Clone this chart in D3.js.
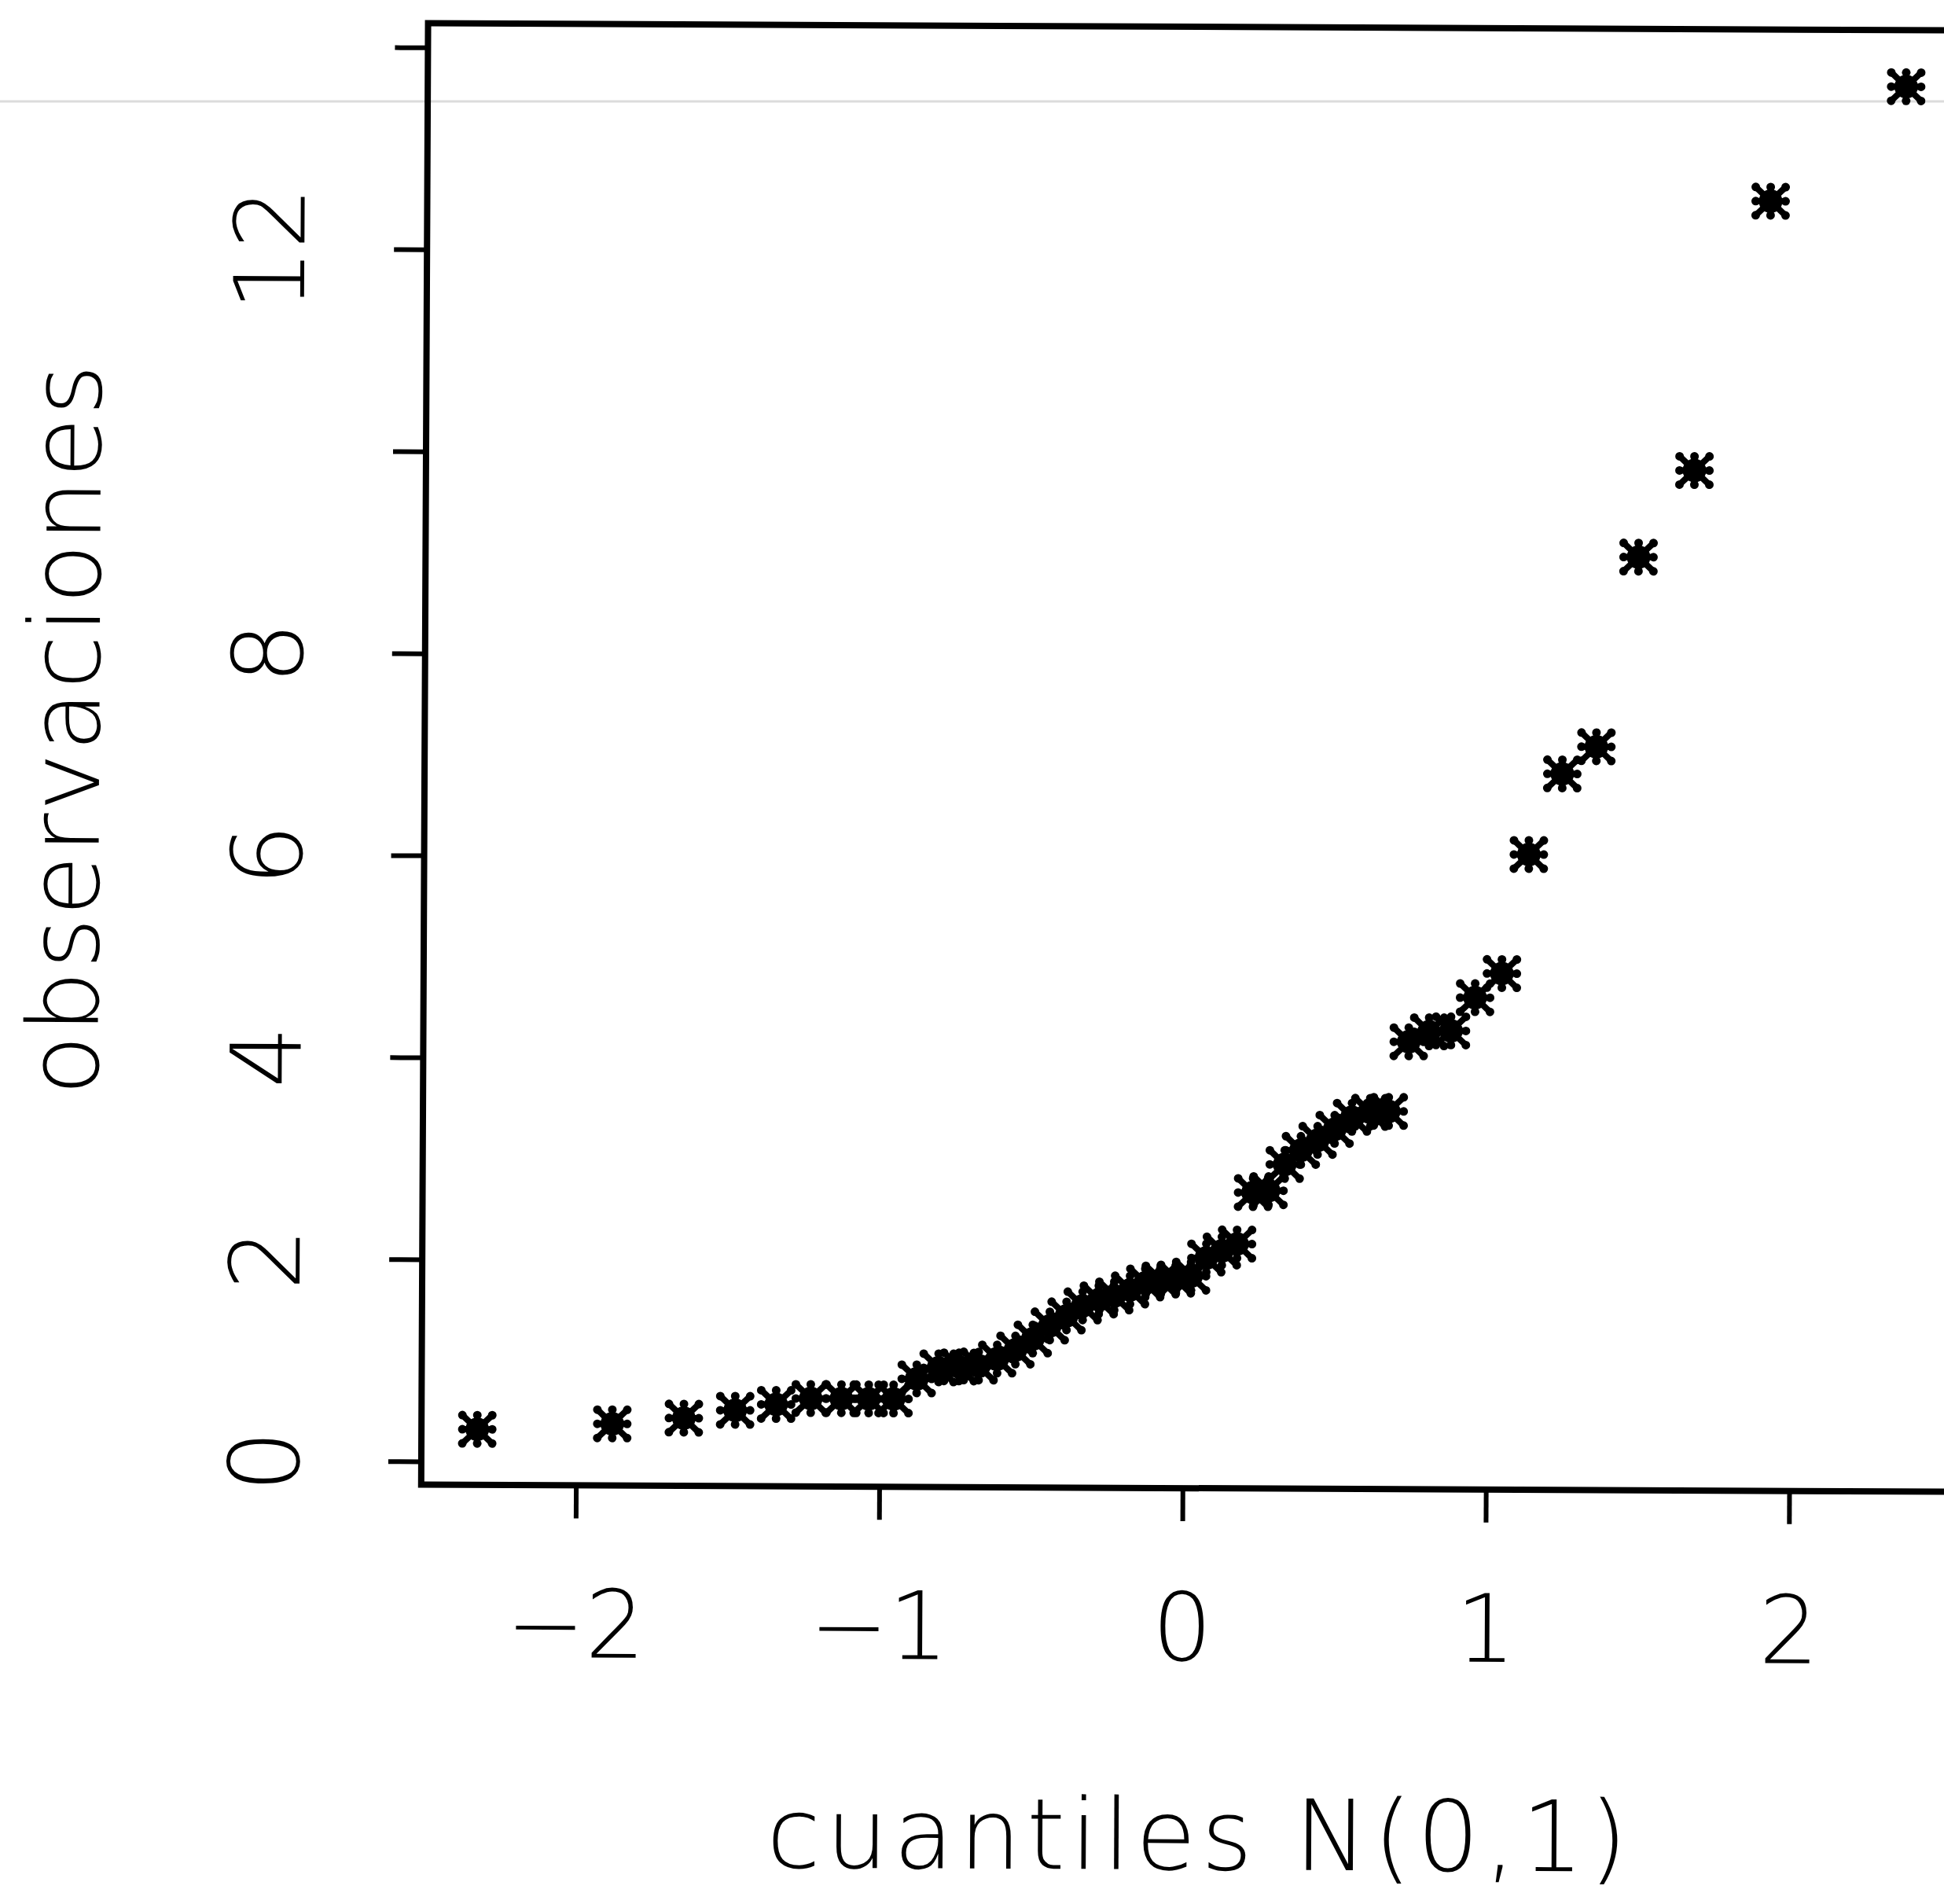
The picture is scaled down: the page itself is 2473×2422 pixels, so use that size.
<!DOCTYPE html>
<html>
<head>
<meta charset="utf-8">
<script src="https://cdn.jsdelivr.net/npm/d3@7/dist/d3.min.js"></script>
<style>
  body { margin: 0; background: #fff; }
  text { font-family: 'DejaVu Sans', sans-serif; font-weight: 200; fill: #000; }
</style>
</head>
<body>
<div class="qq-container"></div>
<script>
var xVals = [
  -2.326, -1.881, -1.645, -1.476, -1.341, -1.227, -1.126, -1.036, -0.954, -0.878,
  -0.806, -0.739, -0.674, -0.613, -0.553, -0.496, -0.44, -0.385, -0.332, -0.279,
  -0.228, -0.176, -0.126, -0.075, -0.025, 0.025, 0.075, 0.126, 0.176, 0.228,
  0.279, 0.332, 0.385, 0.44, 0.496, 0.553, 0.613, 0.674, 0.739, 0.806,
  0.878, 0.957, 1.045, 1.132, 1.241, 1.353, 1.489, 1.672, 1.919, 2.364
];
var yVals = [
  0.32, 0.38, 0.44, 0.52, 0.58, 0.64, 0.64, 0.64, 0.64, 0.84,
  0.95, 0.96, 0.97, 1.04, 1.13, 1.24, 1.37, 1.47, 1.57, 1.63,
  1.67, 1.73, 1.8, 1.83, 1.84, 1.87, 2.05, 2.12, 2.19, 2.7,
  2.72, 2.98, 3.12, 3.22, 3.33, 3.45, 3.5, 3.51, 4.2, 4.3,
  4.31, 4.64, 4.88, 6.06, 6.86, 7.13, 9.01, 9.87, 12.54, 13.68
];
var xTicks = [-2, -1, 0, 1, 2];
var yTicks = [0, 2, 4, 6, 8, 10, 12, 14];
var yTickLabels = [0, 2, 4, 6, 8, 12];
var xTitle = 'cuantiles N(0,1)';
var yTitle = 'observaciones';

var width = 2473,
  height = 2422;

var svg = d3
  .select('.qq-container')
  .append('svg')
  .attr('width', width)
  .attr('height', height);

svg
  .append('rect')
  .attr('width', width)
  .attr('height', height)
  .attr('fill', '#fff');

// faint line left by the scanner
svg
  .append('line')
  .attr('x1', 0)
  .attr('x2', width)
  .attr('y1', 129)
  .attr('y2', 129)
  .attr('stroke', '#dcdcdc')
  .attr('stroke-width', 3);

// the asterisk marker
var star = svg.append('defs').append('g').attr('id', 'star');
var arms = [
  [-19, -18], [0, -18], [19, -18], [-19, 0],
  [19, 0], [-19, 18], [0, 18], [19, 18]
];
arms.forEach(function (a) {
  star
    .append('line')
    .attr('x1', 0)
    .attr('y1', 0)
    .attr('x2', a[0])
    .attr('y2', a[1])
    .attr('stroke', '#000')
    .attr('stroke-width', 8);
  star.append('circle').attr('cx', a[0]).attr('cy', a[1]).attr('r', 5.5);
});
star.append('circle').attr('r', 15);

// the scan is tilted a little
var plot = svg.append('g').attr('transform', 'rotate(0.27, 1500, 1000)');

var x = d3.scaleLinear().domain([-2.51, 2.51]).range([540, 2477]);
var y = d3.scaleLinear().domain([-0.23, 14.24]).range([1893, 34]);

// box (right side falls off the page)
plot
  .append('rect')
  .attr('x', x(-2.51))
  .attr('y', y(14.24))
  .attr('width', x(2.6) - x(-2.51))
  .attr('height', y(-0.23) - y(14.24))
  .attr('fill', 'none')
  .attr('stroke', '#000')
  .attr('stroke-width', 8);

var yAxis = d3
  .axisLeft(y)
  .tickValues(yTicks)
  .tickSize(42)
  .tickFormat(function (d) {
    return yTickLabels.indexOf(d) >= 0 ? d : '';
  });

var gy = plot
  .append('g')
  .attr('transform', 'translate(' + x(-2.51) + ',0)')
  .call(yAxis);
gy.select('.domain').remove();
gy.selectAll('line').attr('stroke', '#000').attr('stroke-width', 6);
gy.selectAll('text')
  .attr('transform', 'rotate(-90)')
  .attr('x', 0)
  .attr('y', -156)
  .attr('dy', 0)
  .attr('text-anchor', 'middle')
  .style('font-size', '124px');

var xAxis = d3
  .axisBottom(x)
  .tickValues(xTicks)
  .tickSize(42)
  .tickFormat(d3.format('d'));

var gx = plot
  .append('g')
  .attr('transform', 'translate(0,' + y(-0.23) + ')')
  .call(xAxis);
gx.select('.domain').remove();
gx.selectAll('line').attr('stroke', '#000').attr('stroke-width', 6);
gx.selectAll('text')
  .attr('y', 219)
  .attr('dy', 0)
  .style('font-size', '120px');

// axis titles
plot
  .append('text')
  .attr('x', 1529)
  .attr('y', 2378)
  .attr('text-anchor', 'middle')
  .attr('textLength', 1095)
  .attr('lengthAdjust', 'spacing')
  .style('font-size', '125px')
  .text(xTitle);

plot
  .append('text')
  .attr('transform', 'translate(126,935) rotate(-90)')
  .attr('text-anchor', 'middle')
  .attr('textLength', 930)
  .attr('lengthAdjust', 'spacing')
  .style('font-size', '125px')
  .text(yTitle);

// points
plot
  .selectAll('use.pt')
  .data(d3.range(xVals.length))
  .join('use')
  .attr('class', 'pt')
  .attr('href', '#star')
  .attr('x', function (i) {
    return x(xVals[i]);
  })
  .attr('y', function (i) {
    return y(yVals[i]);
  });
</script>
</body>
</html>
